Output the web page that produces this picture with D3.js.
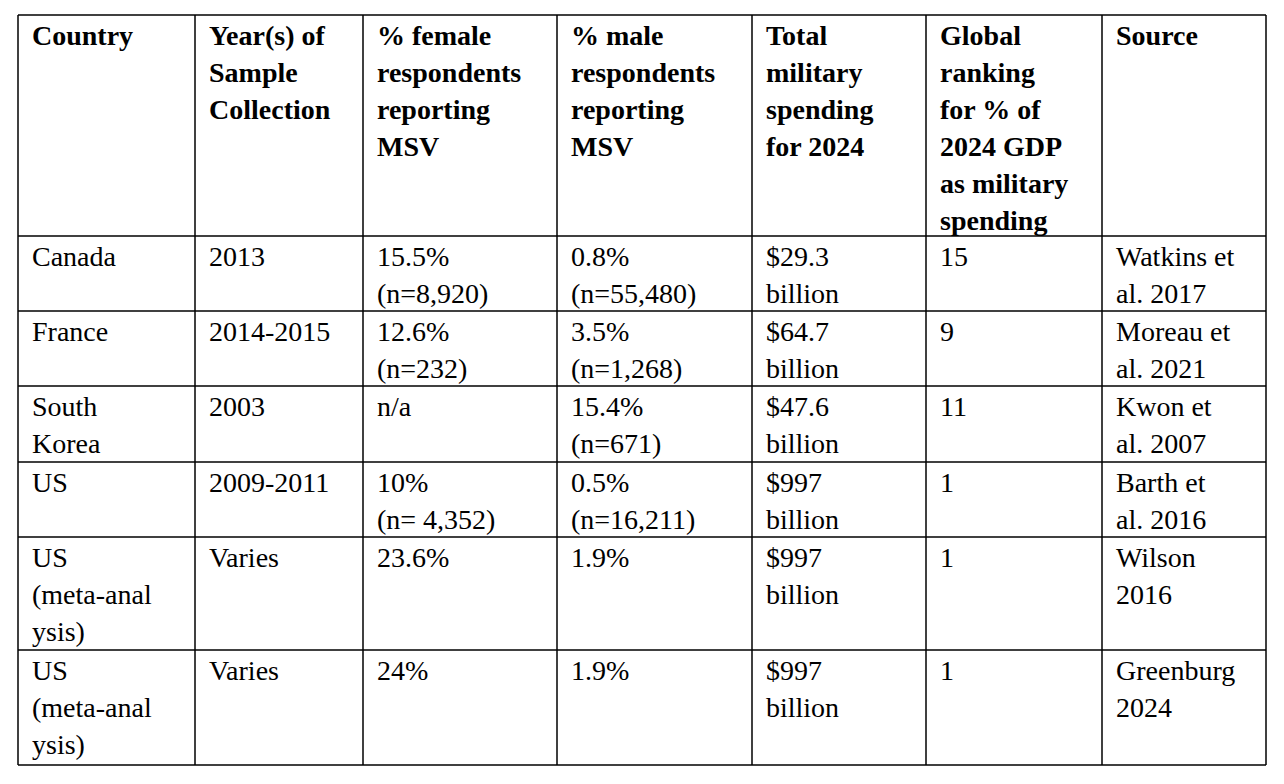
<!DOCTYPE html>
<html><head><meta charset="utf-8">
<script src="https://cdn.jsdelivr.net/npm/d3@7"></script>
<style>body{margin:0;background:#fff}</style></head>
<body><div id="chart"></div>
<script>
var headers = [
  ["Country"], ["Year(s) of", "Sample", "Collection"],
  ["% female", "respondents", "reporting", "MSV"],
  ["% male", "respondents", "reporting", "MSV"],
  ["Total", "military", "spending", "for 2024"],
  ["Global", "ranking", "for % of", "2024 GDP", "as military", "spending"],
  ["Source"]
];
var countries = [["Canada"], ["France"], ["South", "Korea"], ["US"], ["US", "(meta-anal", "ysis)"], ["US", "(meta-anal", "ysis)"]];
var years = ["2013", "2014-2015", "2003", "2009-2011", "Varies", "Varies"];
var female = [["15.5%", "(n=8,920)"], ["12.6%", "(n=232)"], ["n/a"], ["10%", "(n= 4,352)"], ["23.6%"], ["24%"]];
var male = [["0.8%", "(n=55,480)"], ["3.5%", "(n=1,268)"], ["15.4%", "(n=671)"], ["0.5%", "(n=16,211)"], ["1.9%"], ["1.9%"]];
var spending = [["$29.3", "billion"], ["$64.7", "billion"], ["$47.6", "billion"], ["$997", "billion"], ["$997", "billion"], ["$997", "billion"]];
var ranking = ["15", "9", "11", "1", "1", "1"];
var sources = [["Watkins et", "al. 2017"], ["Moreau et", "al. 2021"], ["Kwon et", "al. 2007"], ["Barth et", "al. 2016"], ["Wilson", "2016"], ["Greenburg", "2024"]];

var colEdges = [18, 195, 363, 557, 752, 926, 1102, 1266];
var rowEdges = [15, 236, 311, 386, 462, 537, 650, 765];

var rows = [headers].concat(countries.map(function(c, i) {
  return [c, [years[i]], female[i], male[i], spending[i], [ranking[i]], sources[i]];
}));

var svg = d3.select("#chart").append("svg").attr("width", 1284).attr("height", 784);
var defs = svg.append("defs");
var lineH = 37;

rows.forEach(function(row, r) {
  row.forEach(function(lines, c) {
    var x0 = colEdges[c], x1 = colEdges[c + 1], y0 = rowEdges[r], y1 = rowEdges[r + 1];
    var id = "clip" + r + "_" + c;
    defs.append("clipPath").attr("id", id).append("rect")
      .attr("x", x0).attr("y", y0).attr("width", x1 - x0).attr("height", y1 - y0);
    svg.append("g").attr("clip-path", "url(#" + id + ")")
      .selectAll("text").data(lines).enter().append("text")
      .attr("x", x0 + 14)
      .attr("y", function(d, i) { return y0 + 30 + i * lineH; })
      .attr("font-family", "Liberation Serif, Times New Roman, serif")
      .attr("font-size", 28)
      .attr("font-weight", r === 0 ? "bold" : "normal")
      .attr("fill", "#000")
      .text(function(d) { return d; });
  });
});

svg.selectAll(".v").data(colEdges).enter().append("line")
  .attr("x1", function(d) { return d; }).attr("x2", function(d) { return d; })
  .attr("y1", rowEdges[0]).attr("y2", rowEdges[rowEdges.length - 1])
  .attr("stroke", "#000").attr("stroke-width", 1.5);
svg.selectAll(".h").data(rowEdges).enter().append("line")
  .attr("y1", function(d) { return d; }).attr("y2", function(d) { return d; })
  .attr("x1", colEdges[0]).attr("x2", colEdges[colEdges.length - 1])
  .attr("stroke", "#000").attr("stroke-width", 1.5);
</script></body></html>
